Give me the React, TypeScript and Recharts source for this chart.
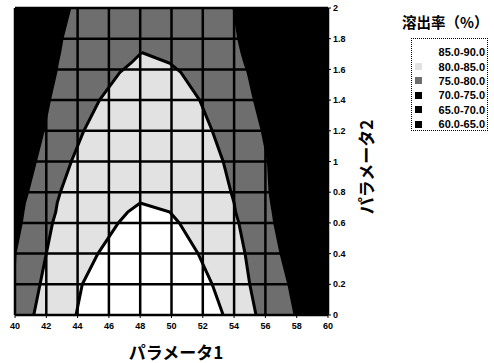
import React from 'react';
import { ComposedChart, Area, XAxis, YAxis, CartesianGrid } from 'recharts';

const xTicks = [40, 42, 44, 46, 48, 50, 52, 54, 56, 58, 60];
const yTicks = [0, 0.2, 0.4, 0.6, 0.8, 1, 1.2, 1.4, 1.6, 1.8, 2];
const yTickLabels = ['0', '0.2', '0.4', '0.6', '0.8', '1', '1.2', '1.4', '1.6', '1.8', '2'];

const p2 = [0, 0.2, 0.4, 0.6, 0.67, 0.73, 0.8, 1.0, 1.2, 1.4, 1.58, 1.64, 1.71, 1.8, 2.0];

// 75-80 band (everything outside is black)
const band75Left = [40.0, 40.0, 40.1, 40.5, 40.6, 40.7, 40.9, 41.4, 41.9, 42.3, 42.7, 42.8, 42.95, 43.1, 43.6];
const band75Right = [57.8, 57.4, 56.9, 56.5, 56.4, 56.3, 56.2, 56.1, 55.7, 55.2, 54.8, 54.6, 54.4, 54.2, 53.9];

// 80-85 band
const band80Left = [41.2, 41.6, 42.0, 42.4, 42.6, 42.7, 42.9, 43.6, 44.4, 45.4, 46.7, 47.4, 48.1, null, null];
const band80Right = [55.4, 55.0, 54.7, 54.3, 54.1, 54.0, 53.8, 53.3, 52.6, 51.8, 50.6, 49.9, 48.1, null, null];

// 85-90 band
const band85Left = [43.9, 44.3, 45.3, 46.6, 47.2, 48.0, null, null, null, null, null, null, null, null, null];
const band85Right = [53.3, 52.6, 51.7, 50.5, 49.9, 48.0, null, null, null, null, null, null, null, null, null];

const levels = ['85.0-90.0', '80.0-85.0', '75.0-80.0', '70.0-75.0', '65.0-70.0', '60.0-65.0'];
const levelColors = ['#ffffff', '#e2e2e2', '#6e6e6e', '#000000', '#000000', '#000000'];

const pair = (l: number | null, r: number | null) => (l == null || r == null ? [null, null] : [l, r]);

const data = p2.map((y, i) => ({
  y,
  b75: pair(band75Left[i], band75Right[i]),
  b80: pair(band80Left[i], band80Right[i]),
  b85: pair(band85Left[i], band85Right[i]),
}));

const tickStyle = { fill: '#000', fontSize: 9, fontWeight: 700 };
const jpFont = '"Noto Sans CJK JP", "Noto Sans", sans-serif';

const App = () => {
  return (
    <div
      style={{
        position: 'absolute',
        left: 0,
        top: 0,
        width: 494,
        height: 363,
        background: '#fff',
        fontFamily: '"Liberation Sans", Arial, sans-serif',
      }}
    >
      <ComposedChart
        width={494}
        height={363}
        data={data}
        layout="vertical"
        margin={{ top: 8, right: 146, bottom: 28, left: 15 }}
      >
        <CartesianGrid fill="#000" stroke="none" horizontal={false} vertical={false} />
        <XAxis
          type="number"
          domain={[40, 60]}
          ticks={xTicks}
          interval={0}
          allowDataOverflow
          height={20}
          axisLine={{ stroke: '#000', strokeWidth: 2 }}
          tickLine={{ stroke: '#000' }}
          tickSize={3}
          tick={{ ...tickStyle, dy: 3 }}
        />
        <YAxis
          type="number"
          dataKey="y"
          orientation="right"
          reversed
          domain={[0, 2]}
          ticks={yTicks}
          interval={0}
          allowDataOverflow
          width={20}
          axisLine={{ stroke: '#000', strokeWidth: 2 }}
          tickLine={{ stroke: '#000' }}
          tickSize={3}
          tick={tickStyle}
          tickFormatter={(v: number) => yTickLabels[yTicks.indexOf(v)] ?? String(v)}
        />
        <Area dataKey="b75" type="linear" fill="#6e6e6e" fillOpacity={1} stroke="none" isAnimationActive={false} />
        <Area dataKey="b80" type="linear" fill="#e2e2e2" fillOpacity={1} stroke="#000" strokeWidth={3} isAnimationActive={false} />
        <Area dataKey="b85" type="linear" fill="#fff" fillOpacity={1} stroke="#000" strokeWidth={3} isAnimationActive={false} />
        <CartesianGrid stroke="#000" strokeWidth={2.5} zIndex={700} />
      </ComposedChart>

      <div
        style={{
          position: 'absolute',
          left: 76,
          width: 200,
          top: 341,
          textAlign: 'center',
          fontFamily: jpFont,
          fontWeight: 700,
          fontSize: 17,
          lineHeight: '22px',
          whiteSpace: 'nowrap',
        }}
      >
        パラメータ1
      </div>
      <div
        style={{
          position: 'absolute',
          left: 266,
          width: 200,
          top: 156,
          textAlign: 'center',
          transform: 'rotate(-90deg)',
          fontFamily: jpFont,
          fontWeight: 700,
          fontSize: 17,
          lineHeight: '22px',
          whiteSpace: 'nowrap',
        }}
      >
        パラメータ2
      </div>

      <div
        style={{
          position: 'absolute',
          left: 402,
          top: 12,
          fontFamily: jpFont,
          fontWeight: 700,
          fontSize: 14.5,
          lineHeight: '20px',
          whiteSpace: 'nowrap',
        }}
      >
        溶出率（%）
      </div>
      <div
        style={{
          position: 'absolute',
          left: 411,
          top: 38,
          width: 77,
          height: 93,
          border: '1px dotted #000',
          boxSizing: 'border-box',
          padding: '6px 2px 0 3px',
        }}
      >
        {levels.map((lv, i) => (
          <div
            key={lv}
            style={{ display: 'flex', alignItems: 'center', justifyContent: 'space-between', height: 14.4 }}
          >
            <div style={{ width: 7, height: 7, background: levelColors[i] }} />
            <span style={{ fontSize: 11, fontWeight: 700, whiteSpace: 'nowrap' }}>{lv}</span>
          </div>
        ))}
      </div>
    </div>
  );
};

export default App;
